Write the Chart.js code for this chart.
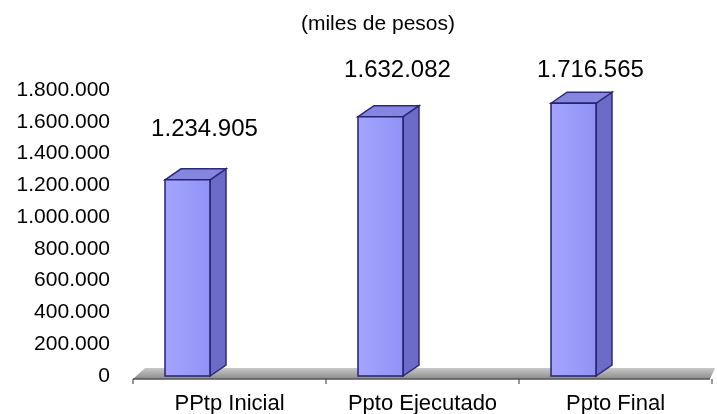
<!DOCTYPE html>
<html>
<head>
<meta charset="utf-8">
<script src="https://cdn.jsdelivr.net/npm/chart.js@4/dist/chart.umd.min.js"></script>
<style>
  body { margin: 0; background: #fff; }
  #wrap { width: 717px; height: 414px; position: relative; }
</style>
</head>
<body>
<div id="wrap"><canvas id="chart"></canvas></div>
<script>
const categories = ['PPtp Inicial', 'Ppto Ejecutado', 'Ppto Final'];
const values = [1234905, 1632082, 1716565];
const yMax = 1800000;
const yStep = 200000;
const titleText = '(miles de pesos)';

const FONT = "'Liberation Sans', Arial, sans-serif";

// 1.234.905 style
function fmt(v) {
    return String(v).replace(/\B(?=(\d{3})+(?!\d))/g, '.');
}

// fake 3D: depth offset and how far the bars sit back from the category centre
const depth = { dx: 16, dy: -11, shift: 42 };

function poly(ctx, pts, fill, stroke) {
    ctx.beginPath();
    ctx.moveTo(pts[0][0], pts[0][1]);
    for (let i = 1; i < pts.length; i++) ctx.lineTo(pts[i][0], pts[i][1]);
    ctx.closePath();
    ctx.fillStyle = fill;
    ctx.fill();
    if (stroke) {
        ctx.strokeStyle = stroke;
        ctx.lineWidth = 1.5;
        ctx.stroke();
    }
}

const bar3d = {
    id: 'bar3d',
    beforeDatasetsDraw(chart) {
        const ctx = chart.ctx;
        const area = chart.chartArea;
        const y0 = chart.scales.y.getPixelForValue(0);
        ctx.save();
        // floor slab
        const g = ctx.createLinearGradient(0, y0 - 8, 0, y0 + 3);
        g.addColorStop(0, '#c8c8c8');
        g.addColorStop(1, '#8c8c8c');
        poly(ctx, [
            [area.left, y0 + 3],
            [area.left + 12, y0 - 8],
            [area.right + 3, y0 - 8],
            [area.right - 2, y0 + 3]
        ], g);
        ctx.restore();
    },
    afterDatasetsDraw(chart) {
        const ctx = chart.ctx;
        const area = chart.chartArea;
        const y0 = chart.scales.y.getPixelForValue(0);
        const meta = chart.getDatasetMeta(0);
        const { dx, dy, shift } = depth;
        ctx.save();
        meta.data.forEach((el, i) => {
            const p = el.getProps(['x', 'y', 'base', 'width'], true);
            const left = p.x - p.width / 2 - shift;
            const right = left + p.width;
            const top = p.y;
            const bottom = p.base;

            // side
            poly(ctx, [[right, bottom], [right + dx, bottom + dy], [right + dx, top + dy], [right, top]],
                '#6c6cc8', '#2a2a7a');
            // top
            poly(ctx, [[left, top], [left + dx, top + dy], [right + dx, top + dy], [right, top]],
                '#8686e0', '#2a2a7a');
            // front
            const fg = ctx.createLinearGradient(left, 0, right, 0);
            fg.addColorStop(0, '#a4a4ff');
            fg.addColorStop(1, '#9292f6');
            poly(ctx, [[left, bottom], [left, top], [right, top], [right, bottom]], fg, '#23236e');

            // value label
            ctx.fillStyle = '#000';
            ctx.font = '24px ' + FONT;
            ctx.textAlign = 'center';
            ctx.textBaseline = 'middle';
            ctx.fillText(fmt(values[i]), left + p.width / 2 + 17, Math.max(70, top - 50));
        });

        // front edge of floor + tick marks
        ctx.strokeStyle = '#555';
        ctx.lineWidth = 1.5;
        ctx.beginPath();
        ctx.moveTo(area.left, y0 + 3);
        ctx.lineTo(area.right - 2, y0 + 3);
        ctx.stroke();
        ctx.lineWidth = 1;
        ctx.strokeStyle = '#333';
        const n = categories.length;
        for (let k = 0; k <= n; k++) {
            const x = area.left + (area.right - area.left) * k / n;
            ctx.beginPath();
            ctx.moveTo(x, y0 + 3);
            ctx.lineTo(x, y0 + 8);
            ctx.stroke();
        }
        ctx.restore();
    },
    afterDraw(chart) {
        const ctx = chart.ctx;
        ctx.save();
        ctx.fillStyle = '#000';
        ctx.font = '21px ' + FONT;
        ctx.textAlign = 'center';
        ctx.textBaseline = 'middle';
        ctx.fillText(titleText, 378, 24);
        ctx.restore();
    }
};

new Chart(document.getElementById('chart'), {
    type: 'bar',
    data: {
        labels: categories,
        datasets: [{
            data: values,
            backgroundColor: 'rgba(0,0,0,0)',
            borderWidth: 0,
            categoryPercentage: 1,
            barPercentage: 0.233
        }]
    },
    options: {
        responsive: true,
        maintainAspectRatio: false,
        animation: false,
        layout: { padding: { left: 14, right: 5, top: 90, bottom: 0 } },
        plugins: {
            legend: { display: false },
            tooltip: { enabled: false },
            title: { display: false }
        },
        scales: {
            x: {
                grid: { display: false, drawTicks: false },
                border: { display: false },
                ticks: {
                    color: '#000',
                    font: { family: FONT, size: 22, lineHeight: 1 },
                    padding: 17
                },
                afterFit: s => { s.height = 38; }
            },
            y: {
                min: 0,
                max: yMax,
                grid: { display: false, drawTicks: false },
                border: { display: false },
                ticks: {
                    stepSize: yStep,
                    color: '#000',
                    font: { family: FONT, size: 21 },
                    padding: 23,
                    callback: v => fmt(v)
                },
                afterFit: s => { s.width = 119; }
            }
        }
    },
    plugins: [bar3d]
});
</script>
</body>
</html>
